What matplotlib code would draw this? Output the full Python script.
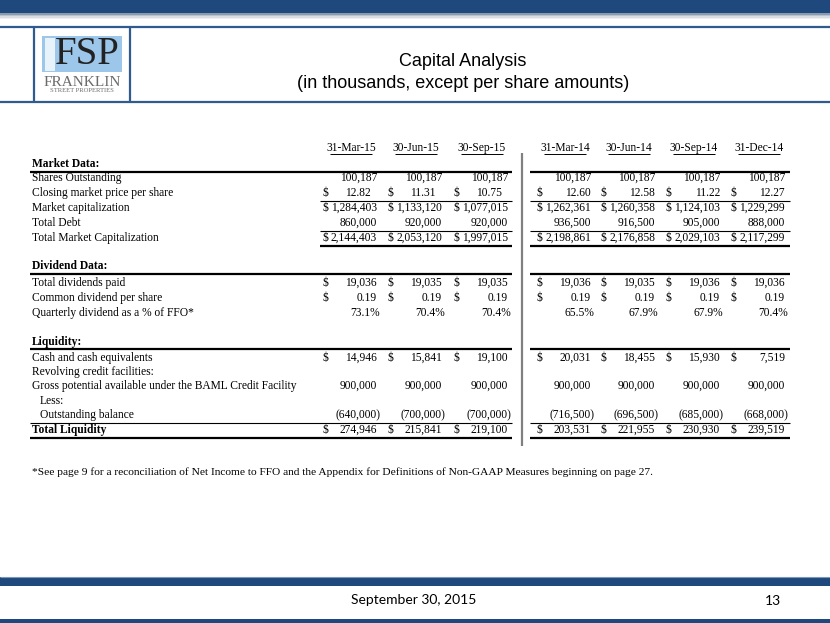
import matplotlib.pyplot as plt
from matplotlib.patches import Rectangle

# Table data (in thousands, except per share amounts)
dates = ["31-Mar-15", "30-Jun-15", "30-Sep-15", "31-Mar-14", "30-Jun-14", "30-Sep-14", "31-Dec-14"]
shares_out = [100187, 100187, 100187, 100187, 100187, 100187, 100187]
close_price = [12.82, 11.31, 10.75, 12.60, 12.58, 11.22, 12.27]
market_cap = [1284403, 1133120, 1077015, 1262361, 1260358, 1124103, 1229299]
total_debt = [860000, 920000, 920000, 936500, 916500, 905000, 888000]
total_mkt_cap = [2144403, 2053120, 1997015, 2198861, 2176858, 2029103, 2117299]
div_paid = [19036, 19035, 19035, 19036, 19035, 19036, 19036]
div_per_share = [0.19, 0.19, 0.19, 0.19, 0.19, 0.19, 0.19]
div_pct_ffo = [73.1, 70.4, 70.4, 65.5, 67.9, 67.9, 70.4]
cash = [14946, 15841, 19100, 20031, 18455, 15930, 7519]
gross_credit = [900000, 900000, 900000, 900000, 900000, 900000, 900000]
outstanding = [-640000, -700000, -700000, -716500, -696500, -685000, -668000]
total_liquidity = [274946, 215841, 219100, 203531, 221955, 230930, 239519]

BLUE = "#1f497d"
SERIF = "Liberation Serif"
FS = 8.3

fig = plt.figure(figsize=(8.3, 6.23), dpi=100)
ax = fig.add_axes([0, 0, 1, 1])
ax.set_xlim(0, 830)
ax.set_ylim(623, 0)
ax.axis("off")

# ---- slide frame ----
ax.add_patch(Rectangle((0, 0), 830, 13, color=BLUE, lw=0))
for i, c in enumerate(["#8a9bb0", "#b9c2cc", "#d9dde2", "#eceef0"]):
    ax.add_patch(Rectangle((0, 13 + i * 1.5), 830, 1.5, color=c, lw=0))
ax.hlines([27, 102], 0, 830, color="#2f5b8f", lw=1.6)
ax.vlines([34, 130], 27, 102, color="#2f5b8f", lw=1.6)

# logo
ax.add_patch(Rectangle((42, 36), 80, 36, color="#9cc6ea", lw=0))
ax.add_patch(Rectangle((45, 38), 10, 33, color="#e8f2fb", lw=0))
ax.text(87, 55, "FSP", ha="center", va="center", fontsize=28, family=SERIF,
        color="#222222")
ax.text(82, 82, "FRANKLIN", ha="center", va="center", fontsize=11, family=SERIF,
        color="#6b6b6b")
ax.text(82, 91, "STREET PROPERTIES", ha="center", va="center", fontsize=4.8,
        family=SERIF, color="#6b6b6b")

ax.text(463, 61, "Capital Analysis", ha="center", va="center", fontsize=13,
        family="Liberation Sans")
ax.text(463, 83, "(in thousands, except per share amounts)", ha="center",
        va="center", fontsize=13, family="Liberation Sans")

# bottom band
ax.add_patch(Rectangle((0, 577), 830, 9, color=BLUE, lw=0))
ax.hlines(576.5, 0, 830, color="#7d97b8", lw=0.8)
ax.add_patch(Rectangle((0, 619), 830, 4, color=BLUE, lw=0))
ax.text(414, 600, "September 30, 2015", ha="center", va="center", fontsize=10,
        family="Lato")
ax.text(773, 601, "13", ha="center", va="center", fontsize=10, family="Lato")

# ---- table layout ----
col_r = [380, 445, 511, 594, 658, 723, 788]
lab_x = 32
left_span = (30, 512)
right_span = (530, 790)


def fmt(v, kind):
    if kind == "pct":
        return f"{v:.1f}%"
    if kind == "dec":
        return f"{v:.2f}"
    if v < 0:
        return f"({abs(v):,})"
    return f"{v:,}"


for c, d in zip(col_r, dates):
    cx = c - 29
    ax.text(cx, 148, d, ha="center", va="center", fontsize=FS, family=SERIF)
    ax.hlines(154, cx - 21, cx + 21, color="black", lw=0.7)

ax.vlines(522, 153, 446, color="#808080", lw=1.6)

rows = [
    ("Shares Outstanding", 178, shares_out, "int", False),
    ("Closing market price per share", 193, close_price, "dec", True),
    ("Market capitalization", 208, market_cap, "int", True),
    ("Total Debt", 223, total_debt, "int", False),
    ("Total Market Capitalization", 238, total_mkt_cap, "int", True),
    ("Total dividends paid", 283, div_paid, "int", True),
    ("Common dividend per share", 298, div_per_share, "dec", True),
    ("Quarterly dividend as a % of FFO*", 313, div_pct_ffo, "pct", False),
    ("Cash and cash equivalents", 358, cash, "int", True),
    ("Gross potential available under the BAML Credit Facility", 386, gross_credit, "int", False),
    ("Outstanding balance", 415, outstanding, "int", False),
    ("Total Liquidity", 430, total_liquidity, "int", True),
]

for label, y, vals, kind, dollar in rows:
    x = lab_x + 8 if label == "Outstanding balance" else lab_x
    weight = "bold" if label == "Total Liquidity" else "normal"
    ax.text(x, y, label, ha="left", va="center", fontsize=FS, family=SERIF,
            weight=weight)
    for i, (c, v) in enumerate(zip(col_r, vals)):
        off = 0 if (kind == "pct" or (kind == "int" and v < 0)) else -3
        if kind == "dec" and label.startswith("Closing") and i < 3:
            off -= 6
        ax.text(c + off, y, fmt(v, kind), ha="right", va="center", fontsize=FS,
                family=SERIF)
        if dollar:
            ax.text(c - 58, y, "$", ha="left", va="center", fontsize=FS,
                    family=SERIF)

ax.text(lab_x, 372, "Revolving credit facilities:", ha="left", va="center",
        fontsize=FS, family=SERIF)
ax.text(lab_x + 8, 401, "Less:", ha="left", va="center", fontsize=FS, family=SERIF)

for title, y in [("Market Data:", 164), ("Dividend Data:", 266), ("Liquidity:", 342)]:
    ax.text(lab_x, y, title, ha="left", va="center", fontsize=FS, family=SERIF,
            weight="bold")

# section rules
for y in [171.5, 274, 349]:
    for s in (left_span, right_span):
        ax.hlines(y, s[0], s[1], color="black", lw=1.6)
# subtotal rules
for y in [201, 231]:
    ax.hlines(y, 320, left_span[1], color="black", lw=0.8)
    ax.hlines(y, right_span[0], right_span[1], color="black", lw=0.8)
for s in ((320, left_span[1]), right_span):
    ax.hlines(245.5, s[0], s[1], color="black", lw=1.6)
ax.hlines(422.5, left_span[0], left_span[1], color="black", lw=0.8)
ax.hlines(422.5, right_span[0], right_span[1], color="black", lw=0.8)
ax.hlines(437.5, left_span[0], left_span[1], color="black", lw=1.6)
ax.hlines(437.5, right_span[0], right_span[1], color="black", lw=1.6)

ax.text(lab_x, 472, "*See page 9 for a reconciliation of Net Income to FFO and the "
        "Appendix for Definitions of Non-GAAP Measures beginning on page 27.",
        ha="left", va="center", fontsize=8.2, family=SERIF)

fig.savefig("out.png", dpi=100)
